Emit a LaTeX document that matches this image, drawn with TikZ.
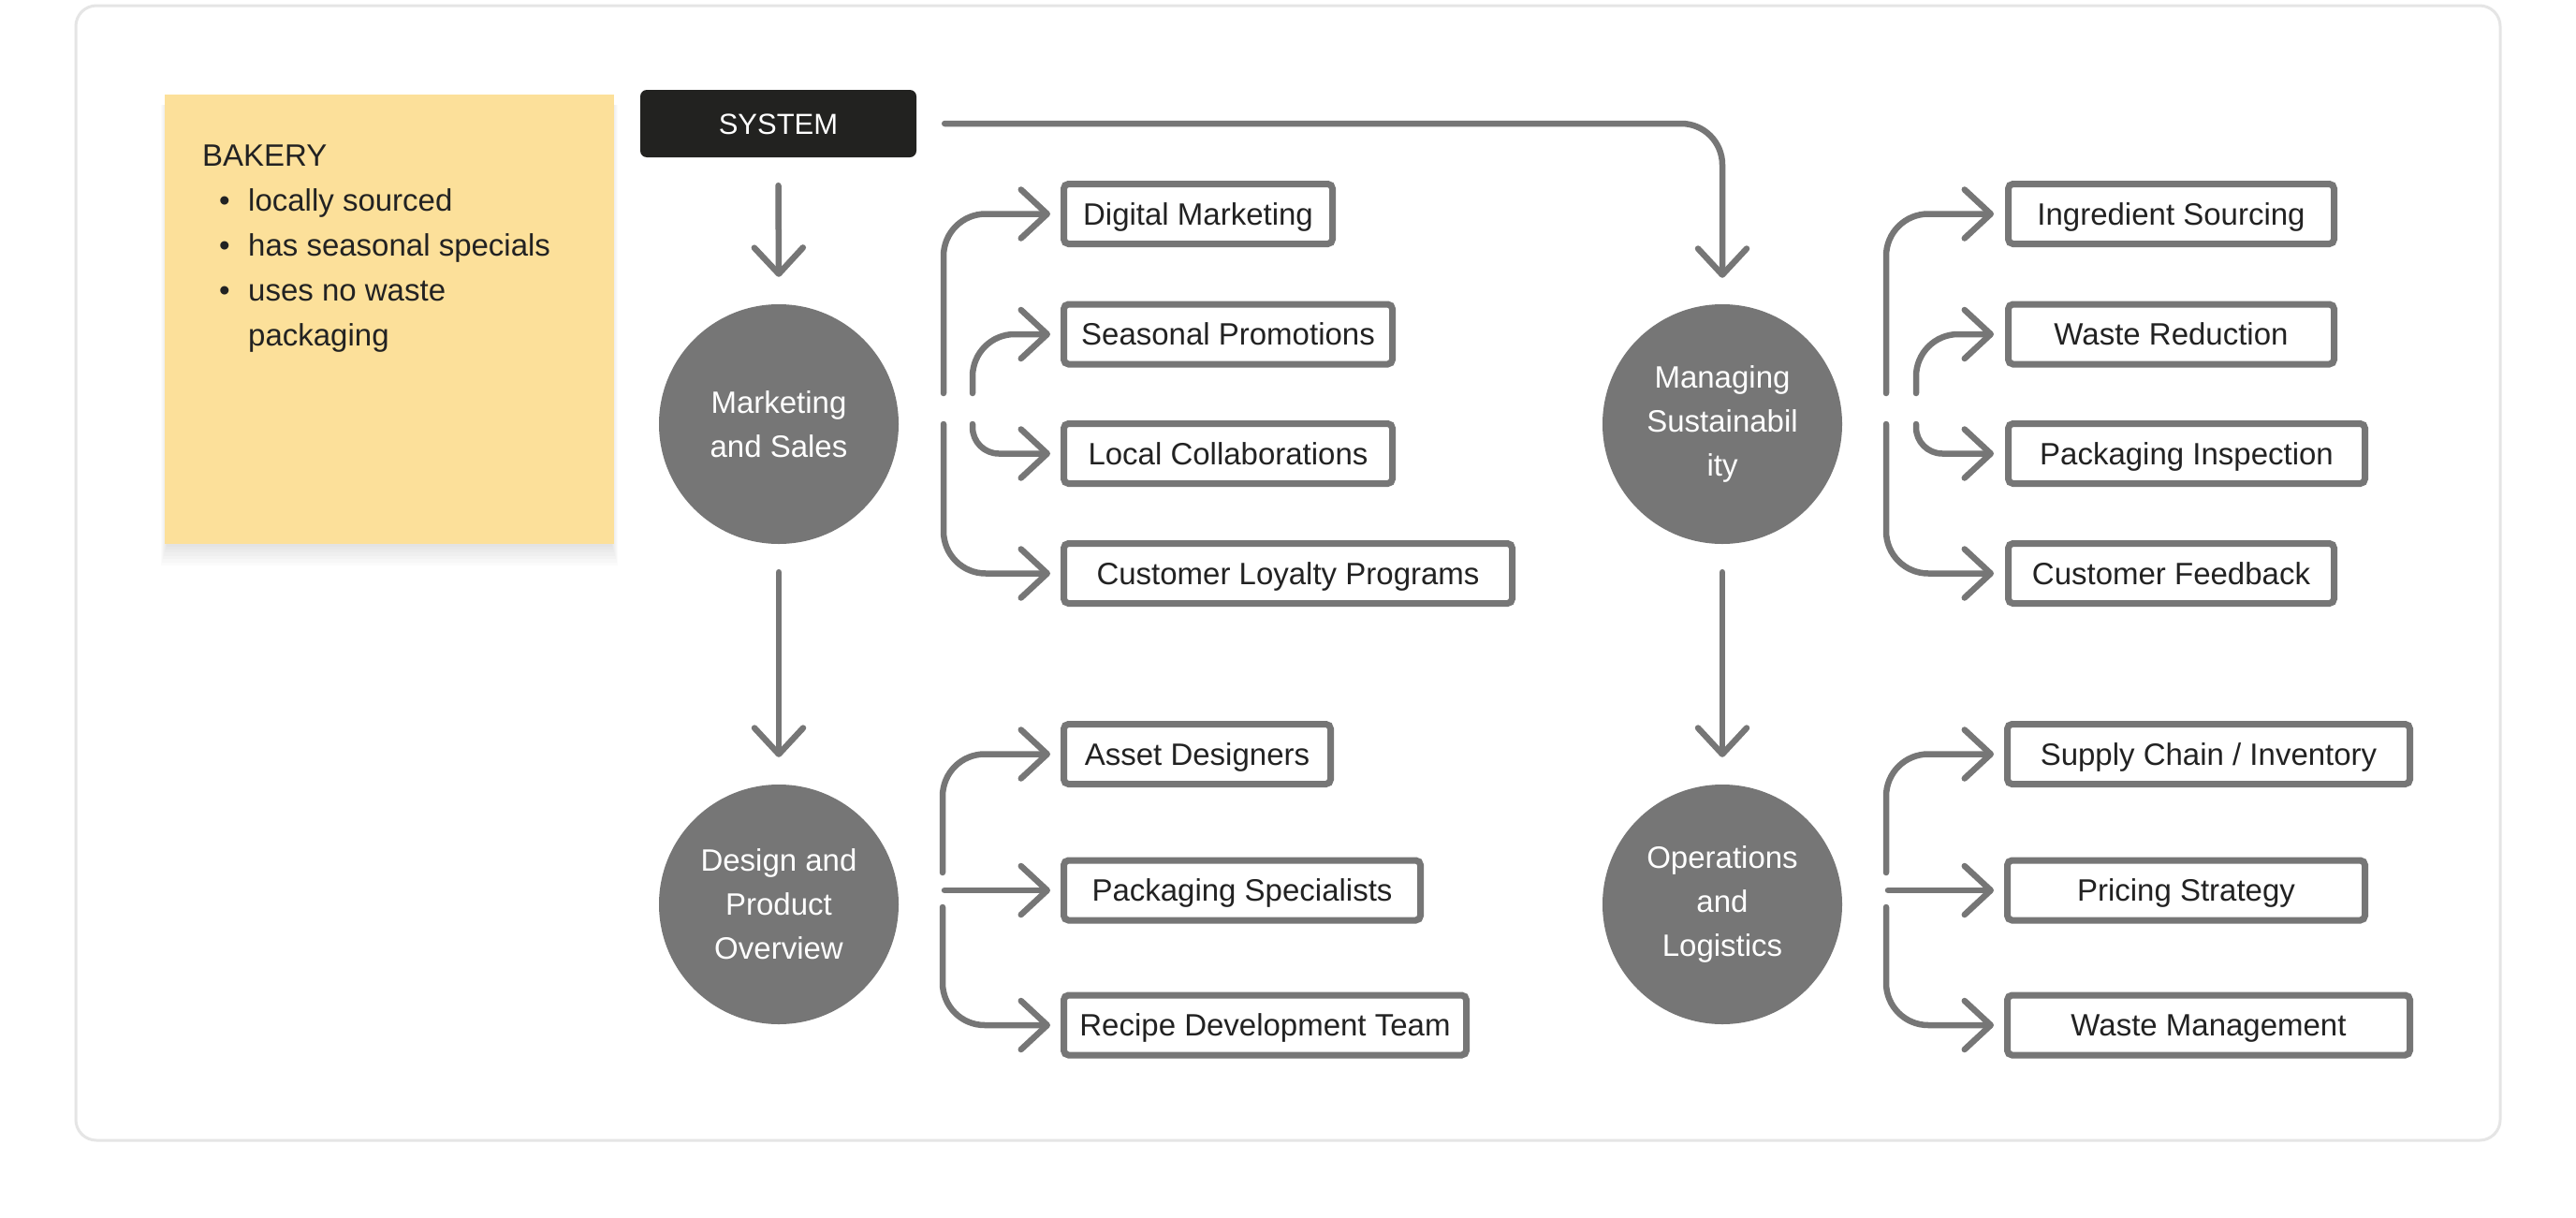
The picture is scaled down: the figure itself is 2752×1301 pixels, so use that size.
\documentclass[tikz,border=0pt]{standalone}
\usepackage{fontspec}
\setmainfont{Liberation Sans}
\usetikzlibrary{arrows.meta}
\definecolor{lg}{HTML}{767676}
\definecolor{txt}{HTML}{222222}
\definecolor{sysdark}{HTML}{222220}
\definecolor{sticky}{HTML}{FCE09A}
\definecolor{framec}{HTML}{E5E5E5}
\newcommand\lab{\fontsize{33}{40}\selectfont}
\tikzset{
  conn/.style={draw=lg, line width=6.5pt, line cap=round, line join=round,
    -{Straight Barb[length=28pt,width=52pt,round]}},
  box/.style={draw=lg, line width=7pt, fill=white, rounded corners=5pt,
    minimum height=64pt, inner sep=0pt, font=\lab, text=txt, anchor=west,
    text height=23.6pt, text depth=0pt},
  circ/.style={circle, fill=lg, minimum size=256pt, inner sep=0pt, text=white,
    align=center, font=\fontsize{33}{47}\selectfont},
  stxt/.style={font=\lab, text=txt, inner sep=0pt},
}
\begin{document}
\begin{tikzpicture}[x=1pt,y=-1pt]
\useasboundingbox (0,0) rectangle (2752,1301);
\fill[white] (0,0) rectangle (2752,1301);
% frame
\draw[framec, line width=3pt, rounded corners=22pt] (81,6) rectangle (2671,1218);
% sticky shadow
\foreach \i in {1,...,10}
  \fill[black, opacity=0.016] (182-\i*1.0,112) rectangle (650+\i*1.0,570+\i*3.4);
\node[fill=sticky, minimum width=480pt, minimum height=480pt, inner sep=0pt,
  anchor=north west] (note) at (176,101) {};
\node[stxt, anchor=base west] (t0) at (216,177) {BAKERY};
\node[stxt, anchor=base] (b1) at (240,225) {•};
\node[stxt, anchor=base west] (t1) at (265,225) {locally sourced};
\node[stxt, anchor=base] (b2) at (240,273) {•};
\node[stxt, anchor=base west] (t2) at (265,273) {has seasonal specials};
\node[stxt, anchor=base] (b3) at (240,321) {•};
\node[stxt, anchor=base west] (t3) at (265,321) {uses no waste};
\node[stxt, anchor=base west] (t4) at (265,369) {packaging};
% system
\node[fill=sysdark, rounded corners=7pt, minimum width=295pt, minimum height=72pt,
  inner sep=0pt, text=white, font=\fontsize{31}{36}\selectfont,
  text height=22.2pt, text depth=0pt] (sys) at (831.5,132) {SYSTEM};
% circles
\node[circ] (mk) at (832,453) {Marketing\\and Sales};
\node[circ] (dp) at (832,966) {Design and\\Product\\Overview};
\node[circ] (ms) at (1840,453) {Managing\\Sustainabil\\ity};
\node[circ] (ol) at (1840,966) {Operations\\and\\Logistics};
% boxes
\node[box, minimum width=287pt] (dm) at (1133,228.5) {Digital Marketing};
\node[box, minimum width=351pt] (sp) at (1133,357) {Seasonal Promotions};
\node[box, minimum width=351pt] (lc) at (1133,484.5) {Local Collaborations};
\node[box, minimum width=479pt] (clp) at (1133,612.5) {Customer Loyalty Programs};
\node[box, minimum width=285pt] (ad) at (1133,805.5) {Asset Designers};
\node[box, minimum width=381pt] (ps) at (1133,951) {Packaging Specialists};
\node[box, minimum width=430pt] (rdt) at (1133,1095) {Recipe Development Team};
\node[box, minimum width=348pt] (is) at (2142,228.5) {Ingredient Sourcing};
\node[box, minimum width=348pt] (wr) at (2142,357) {Waste Reduction};
\node[box, minimum width=381pt] (pi) at (2142,484.5) {Packaging Inspection};
\node[box, minimum width=348pt] (cf) at (2142,612.5) {Customer Feedback};
\node[box, minimum width=430pt] (sci) at (2141,805.5) {Supply Chain / Inventory};
\node[box, minimum width=382pt] (pst) at (2141,951) {Pricing Strategy};
\node[box, minimum width=430pt] (wm) at (2141,1095) {Waste Management};
% main arrows
\draw[conn] ([yshift=-30pt]sys.south) -- ([yshift=29pt]mk.north);
\draw[conn] ([yshift=-30pt]mk.south) -- ([yshift=29pt]dp.north);
\draw[conn] ([yshift=-30pt]ms.south) -- ([yshift=29pt]ol.north);
\draw[conn, rounded corners=44pt] ([xshift=30pt]sys.east) -| ([yshift=28pt]ms.north);
% marketing branches
\coordinate (mkU) at (1008,420);
\coordinate (mkUi) at (1039,420);
\coordinate (mkL) at (1008,453);
\coordinate (mkLi) at (1039,453);
\draw[conn, rounded corners=45pt] (mkU) |- ([xshift=-11pt]dm.west);
\draw[conn, rounded corners=45pt] (mkUi) |- ([xshift=-11pt]sp.west);
\draw[conn, rounded corners=28pt] (mkLi) |- ([xshift=-11pt]lc.west);
\draw[conn, rounded corners=45pt] (mkL) |- ([xshift=-11pt]clp.west);
% managing branches
\coordinate (msU) at (2015,420);
\coordinate (msUi) at (2047,420);
\coordinate (msL) at (2015,453);
\coordinate (msLi) at (2047,453);
\draw[conn, rounded corners=45pt] (msU) |- ([xshift=-12pt]is.west);
\draw[conn, rounded corners=45pt] (msUi) |- ([xshift=-12pt]wr.west);
\draw[conn, rounded corners=28pt] (msLi) |- ([xshift=-12pt]pi.west);
\draw[conn, rounded corners=45pt] (msL) |- ([xshift=-12pt]cf.west);
% design branches
\coordinate (dpU) at (1007,932);
\coordinate (dpM) at (1009,951);
\coordinate (dpL) at (1007,969);
\draw[conn, rounded corners=45pt] (dpU) |- ([xshift=-11pt]ad.west);
\draw[conn] (dpM) -- ([xshift=-11pt]ps.west);
\draw[conn, rounded corners=45pt] (dpL) |- ([xshift=-11pt]rdt.west);
% operations branches
\coordinate (olU) at (2015,932);
\coordinate (olM) at (2017,951);
\coordinate (olL) at (2015,969);
\draw[conn, rounded corners=45pt] (olU) |- ([xshift=-11pt]sci.west);
\draw[conn] (olM) -- ([xshift=-11pt]pst.west);
\draw[conn, rounded corners=45pt] (olL) |- ([xshift=-11pt]wm.west);
\end{tikzpicture}
\end{document}
